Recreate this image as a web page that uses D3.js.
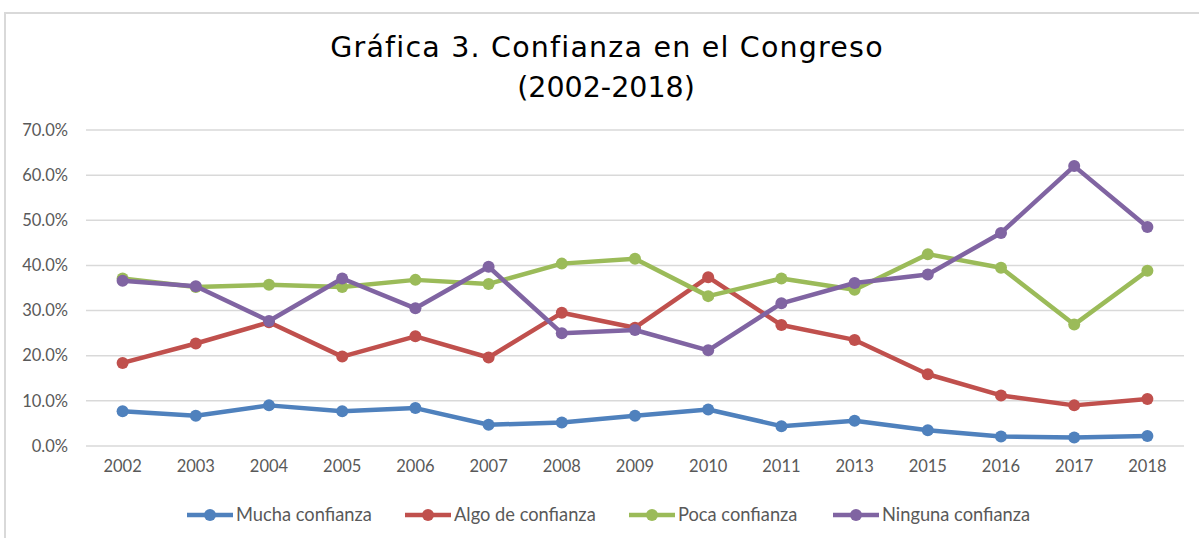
<!DOCTYPE html>
<html>
<head>
<meta charset="utf-8">
<script src="https://cdn.jsdelivr.net/npm/d3@7"></script>
<style>
	body { margin: 0; background: #fff; }
	svg { display: block; }
</style>
</head>
<body>
<script>
// Data
const years = ["2002", "2003", "2004", "2005", "2006", "2007", "2008", "2009", "2010", "2011", "2013", "2015", "2016", "2017", "2018"];
const mucha = [7.7, 6.7, 9.0, 7.7, 8.4, 4.7, 5.2, 6.7, 8.1, 4.4, 5.6, 3.5, 2.1, 1.9, 2.2];
const algo = [18.4, 22.7, 27.4, 19.8, 24.3, 19.6, 29.5, 26.2, 37.4, 26.8, 23.5, 15.9, 11.2, 9.0, 10.4];
const poca = [37.1, 35.2, 35.7, 35.2, 36.8, 35.9, 40.4, 41.5, 33.2, 37.1, 34.6, 42.5, 39.5, 26.9, 38.8];
const ninguna = [36.6, 35.4, 27.7, 37.1, 30.5, 39.7, 25.0, 25.7, 21.2, 31.6, 36.1, 38.0, 47.2, 62.0, 48.5];
const seriesNames = ["Mucha confianza", "Algo de confianza", "Poca confianza", "Ninguna confianza"];
const seriesColors = ["#4f81bd", "#c0504d", "#9bbb59", "#8064a2"];
const yTicks = [0, 10, 20, 30, 40, 50, 60, 70];

const width = 1199;
const height = 538;
const plot = { left: 86, right: 1184, top: 130, bottom: 446 };
const labelFont = "Lato, 'Open Sans', sans-serif";

const svg = d3.select("body").append("svg").attr("width", width).attr("height", height);

// Chart frame (only top and left edges show)
svg.append("path")
	.attr("d", `M5,${height} V13 H${width}`)
	.attr("fill", "none")
	.attr("stroke", "#d9d9d9")
	.attr("stroke-width", 2);

// Title
const title = svg.append("text")
	.attr("text-anchor", "middle")
	.attr("font-family", "'DejaVu Sans', sans-serif")
	.attr("font-size", 28.5)
	.attr("fill", "#000");
title.append("tspan").attr("x", 607).attr("y", 57).attr("letter-spacing", 1.2).text("Gráfica 3. Confianza en el Congreso");
title.append("tspan").attr("x", 606).attr("y", 97).text("(2002-2018)");

// Scales
const x = d3.scaleBand().domain(years).range([plot.left, plot.right]);
const y = d3.scaleLinear().domain([0, 70]).range([plot.bottom, plot.top]);

// Gridlines
svg.append("g")
	.selectAll("line")
	.data(yTicks)
	.enter()
	.append("line")
	.attr("x1", plot.left)
	.attr("x2", plot.right)
	.attr("y1", (d) => y(d))
	.attr("y2", (d) => y(d))
	.attr("stroke", "#d9d9d9")
	.attr("stroke-width", 1.5);

// Y axis
const yAxis = svg.append("g")
	.attr("transform", `translate(${plot.left - 18}, 0)`)
	.call(d3.axisLeft(y).tickValues(yTicks).tickSize(0).tickPadding(0).tickFormat((d) => d.toFixed(1) + "%"));
yAxis.select(".domain").remove();
yAxis.selectAll("text")
	.attr("font-family", labelFont)
	.attr("font-size", 16.5)
	.attr("fill", "#595959");

// X axis
const xAxis = svg.append("g")
	.attr("transform", `translate(0, ${plot.bottom})`)
	.call(d3.axisBottom(x).tickSize(0).tickPadding(14));
xAxis.select(".domain").remove();
xAxis.selectAll("text")
	.attr("font-family", labelFont)
	.attr("font-size", 16.5)
	.attr("fill", "#595959");

// Lines and markers
const allSeries = [mucha, algo, poca, ninguna].map((values, i) => ({
	name: seriesNames[i],
	color: seriesColors[i],
	points: values.map((v, j) => ({ year: years[j], value: v })),
}));

const line = d3.line()
	.x((d) => x(d.year) + x.bandwidth() / 2)
	.y((d) => y(d.value));

const seriesG = svg.append("g")
	.selectAll("g")
	.data(allSeries)
	.enter()
	.append("g");

seriesG.append("path")
	.attr("d", (d) => line(d.points))
	.attr("fill", "none")
	.attr("stroke", (d) => d.color)
	.attr("stroke-width", 4.5)
	.attr("stroke-linejoin", "round");

seriesG.selectAll("circle")
	.data((d) => d.points.map((p) => ({ ...p, color: d.color })))
	.enter()
	.append("circle")
	.attr("cx", (d) => x(d.year) + x.bandwidth() / 2)
	.attr("cy", (d) => y(d.value))
	.attr("r", 6)
	.attr("fill", (d) => d.color);

// Legend
const legendX = [187, 405, 629, 833];
const legend = svg.append("g").attr("transform", "translate(0, 515)");
const legendItem = legend.selectAll("g")
	.data(allSeries)
	.enter()
	.append("g")
	.attr("transform", (d, i) => `translate(${legendX[i]}, 0)`);

legendItem.append("line")
	.attr("x1", 0)
	.attr("x2", 46)
	.attr("stroke", (d) => d.color)
	.attr("stroke-width", 4.5);

legendItem.append("circle")
	.attr("cx", 23)
	.attr("r", 6)
	.attr("fill", (d) => d.color);

legendItem.append("text")
	.attr("x", 49)
	.attr("dy", "0.35em")
	.attr("font-family", labelFont)
	.attr("font-size", 18.3)
	.attr("fill", "#595959")
	.text((d) => d.name);
</script>
</body>
</html>
